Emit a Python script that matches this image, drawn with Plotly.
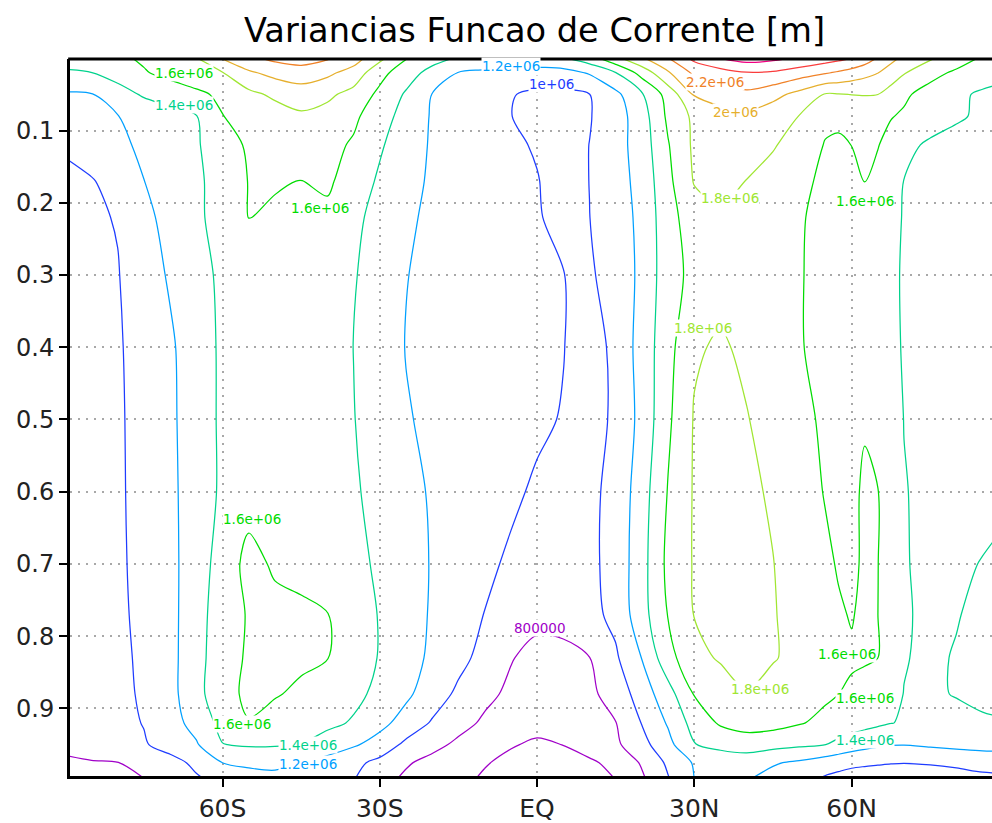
import numpy as np
import plotly.graph_objects as go

# ---------------- data ----------------
latitudes = [-90, -85, -80, -75, -70, -65, -60, -55, -50, -45, -40, -35, -30, -25, -20, -15, -10, -5,
             0, 5, 10, 15, 20, 25, 30, 35, 40, 45, 50,
             55, 57.5, 60, 62.5, 65, 67.5, 70, 75, 80, 85, 90]
sigma_levels = [0.0, 0.02, 0.05, 0.08, 0.12, 0.17, 0.22, 0.3, 0.4, 0.5, 0.6, 0.7,
                0.77, 0.83, 0.88, 0.92, 0.95, 0.975, 1.0]

# streamfunction variance, units of 1e6 m (one row per sigma level)
variance_1e6 = [
    [1.45, 1.506, 1.563, 1.627, 1.708, 1.789, 2.014, 2.155, 2.246, 2.287, 2.22, 2.094, 1.848, 1.609, 1.474, 1.377, 1.323, 1.27,
     1.324, 1.377, 1.514, 1.747, 1.974, 2.191, 2.451, 2.605, 2.684, 2.645, 2.573,
     2.492, 2.452, 2.411, 2.31, 2.184, 2.053, 1.959, 1.824, 1.691, 1.576, 1.5],
    [1.385, 1.397, 1.485, 1.584, 1.657, 1.725, 1.793, 1.970, 2.061, 2.107, 2.043, 1.92, 1.663, 1.49, 1.333, 1.194, 1.167, 1.13,
     1.12, 1.13, 1.218, 1.396, 1.674, 1.975, 2.242, 2.316, 2.39, 2.374, 2.297,
     2.22, 2.173, 2.117, 2.061, 2.004, 1.912, 1.815, 1.658, 1.569, 1.518, 1.47],
    [1.18, 1.19, 1.311, 1.425, 1.491, 1.558, 1.64, 1.751, 1.836, 1.9, 1.839, 1.735, 1.554, 1.377, 1.195, 1.133, 1.072, 1.01,
     0.965, 0.96, 0.997, 1.151, 1.38, 1.677, 2.016, 2.083, 2.15, 2.065, 1.938,
     1.785, 1.79, 1.803, 1.81, 1.801, 1.718, 1.629, 1.53, 1.447, 1.363, 1.3],
    [1.11, 1.153, 1.196, 1.26, 1.327, 1.393, 1.596, 1.655, 1.711, 1.768, 1.732, 1.637, 1.492, 1.322, 1.183, 1.123, 1.063, 1.002,
     0.963, 0.954, 0.989, 1.109, 1.311, 1.639, 1.843, 1.929, 1.95, 1.874, 1.797,
     1.64, 1.635, 1.63, 1.63, 1.63, 1.609, 1.578, 1.504, 1.43, 1.362, 1.3],
    [1.02, 1.091, 1.162, 1.233, 1.306, 1.378, 1.519, 1.625, 1.672, 1.72, 1.655, 1.578, 1.425, 1.285, 1.181, 1.132, 1.083, 1.034,
     0.982, 0.92, 1.002, 1.121, 1.294, 1.588, 1.837, 1.892, 1.882, 1.819, 1.707,
     1.59, 1.575, 1.601, 1.617, 1.607, 1.545, 1.455, 1.367, 1.32, 1.30, 1.28],
    [0.965, 0.988, 1.065, 1.198, 1.282, 1.364, 1.481, 1.606, 1.612, 1.597, 1.63, 1.514, 1.37, 1.253, 1.177, 1.135, 1.093, 1.051,
     1.009, 0.92, 1.002, 1.116, 1.268, 1.552, 1.814, 1.88, 1.795, 1.715, 1.634,
     1.572, 1.555, 1.578, 1.602, 1.556, 1.471, 1.397, 1.353, 1.31, 1.29, 1.27],
    [0.95, 0.976, 1.009, 1.151, 1.263, 1.358, 1.487, 1.603, 1.58, 1.573, 1.558, 1.45, 1.328, 1.225, 1.171, 1.133, 1.094, 1.056,
     1.018, 0.935, 0.998, 1.109, 1.247, 1.531, 1.703, 1.761, 1.712, 1.663, 1.613,
     1.562, 1.536, 1.528, 1.521, 1.49, 1.431, 1.393, 1.351, 1.31, 1.29, 1.27],
    [0.93, 0.961, 0.992, 1.097, 1.224, 1.343, 1.431, 1.49, 1.55, 1.535, 1.52, 1.415, 1.309, 1.204, 1.168, 1.134, 1.101, 1.067,
     1.034, 1.003, 0.971, 1.095, 1.239, 1.524, 1.653, 1.726, 1.703, 1.657, 1.61,
     1.556, 1.528, 1.5, 1.472, 1.444, 1.416, 1.392, 1.349, 1.31, 1.29, 1.27],
    [0.91, 0.947, 0.984, 1.06, 1.168, 1.319, 1.427, 1.478, 1.529, 1.515, 1.457, 1.398, 1.29, 1.195, 1.163, 1.132, 1.1, 1.069,
     1.037, 1.006, 0.9, 1.054, 1.276, 1.535, 1.777, 1.825, 1.761, 1.686, 1.611,
     1.554, 1.527, 1.5, 1.473, 1.446, 1.418, 1.394, 1.352, 1.31, 1.29, 1.27],
    [0.9, 0.94, 0.98, 1.053, 1.16, 1.313, 1.428, 1.483, 1.538, 1.524, 1.465, 1.406, 1.311, 1.212, 1.17, 1.135, 1.1, 1.066,
     1.032, 0.989, 0.905, 1.042, 1.26, 1.566, 1.814, 1.88, 1.809, 1.726, 1.642,
     1.575, 1.55, 1.57, 1.59, 1.57, 1.481, 1.397, 1.353, 1.31, 1.29, 1.27],
    [0.89, 0.934, 0.978, 1.051, 1.153, 1.306, 1.428, 1.52, 1.55, 1.528, 1.485, 1.421, 1.346, 1.256, 1.181, 1.131, 1.082, 1.032,
     0.974, 0.9, 0.957, 1.057, 1.31, 1.611, 1.818, 1.88, 1.835, 1.779, 1.684,
     1.59, 1.556, 1.575, 1.617, 1.603, 1.506, 1.408, 1.36, 1.34, 1.36, 1.38],
    [0.88, 0.927, 0.974, 1.047, 1.149, 1.302, 1.483, 1.66, 1.575, 1.56, 1.502, 1.443, 1.375, 1.28, 1.188, 1.112, 1.036, 0.973,
     0.921, 0.893, 0.956, 1.068, 1.327, 1.648, 1.816, 1.861, 1.841, 1.804, 1.721,
     1.631, 1.587, 1.567, 1.625, 1.603, 1.515, 1.41, 1.365, 1.379, 1.405, 1.43],
    [0.87, 0.92, 0.969, 1.04, 1.147, 1.311, 1.52, 1.613, 1.65, 1.625, 1.605, 1.495, 1.389, 1.284, 1.181, 1.088, 0.996, 0.922,
     0.85, 0.865, 0.941, 1.052, 1.323, 1.609, 1.806, 1.846, 1.841, 1.81, 1.745,
     1.663, 1.618, 1.59, 1.635, 1.601, 1.509, 1.415, 1.37, 1.391, 1.44, 1.46],
    [0.86, 0.911, 0.962, 1.03, 1.147, 1.317, 1.54, 1.618, 1.66, 1.629, 1.605, 1.491, 1.389, 1.276, 1.165, 1.057, 0.938, 0.81,
     0.744, 0.75, 0.797, 0.972, 1.205, 1.53, 1.747, 1.819, 1.835, 1.811, 1.758,
     1.682, 1.643, 1.62, 1.615, 1.601, 1.508, 1.408, 1.372, 1.411, 1.452, 1.46],
    [0.85, 0.903, 0.957, 1.022, 1.144, 1.323, 1.56, 1.623, 1.612, 1.571, 1.507, 1.442, 1.359, 1.237, 1.099, 0.962, 0.843, 0.766,
     0.712, 0.704, 0.762, 0.877, 1.095, 1.323, 1.611, 1.703, 1.795, 1.74, 1.684,
     1.629, 1.601, 1.575, 1.55, 1.491, 1.441, 1.397, 1.373, 1.41, 1.45, 1.46],
    [0.84, 0.894, 0.949, 1.007, 1.119, 1.272, 1.46, 1.595, 1.54, 1.487, 1.44, 1.383, 1.257, 1.122, 0.981, 0.862, 0.772, 0.714,
     0.655, 0.65, 0.724, 0.795, 1.008, 1.221, 1.476, 1.626, 1.679, 1.668, 1.614,
     1.555, 1.525, 1.495, 1.465, 1.435, 1.405, 1.385, 1.351, 1.34, 1.37, 1.39],
    [0.83, 0.881, 0.932, 0.983, 1.073, 1.18, 1.395, 1.421, 1.418, 1.397, 1.322, 1.224, 1.121, 0.957, 0.854, 0.764, 0.709, 0.612,
     0.576, 0.603, 0.684, 0.765, 0.933, 1.141, 1.394, 1.449, 1.5, 1.468, 1.435,
     1.403, 1.35, 1.3, 1.26, 1.23, 1.21, 1.205, 1.23, 1.25, 1.26, 1.26],
    [0.78, 0.788, 0.797, 0.853, 0.937, 1.039, 1.201, 1.243, 1.236, 1.194, 1.12, 1.046, 0.951, 0.821, 0.744, 0.677, 0.611, 0.563,
     0.518, 0.526, 0.57, 0.652, 0.821, 1.036, 1.22, 1.293, 1.282, 1.218, 1.17,
     1.1, 1.07, 1.045, 1.03, 1.02, 1.01, 1.005, 1.02, 1.05, 1.09, 1.1],
    [0.72, 0.744, 0.768, 0.792, 0.87, 0.973, 1.041, 1.095, 1.15, 1.101, 1.052, 1.004, 0.86, 0.762, 0.699, 0.635, 0.577, 0.524,
     0.471, 0.484, 0.54, 0.597, 0.765, 0.982, 1.196, 1.26, 1.204, 1.131, 1.057,
     0.96, 0.93, 0.9, 0.89, 0.88, 0.87, 0.86, 0.86, 0.88, 0.92, 0.93],
]

contour_levels = [600000, 800000, 1000000, 1200000, 1400000, 1600000,
                  1800000, 2000000, 2200000, 2400000, 2600000]
level_colors = ["#a000c8", "#a000c8", "#1e3cff", "#00a0ff", "#00d28c", "#00dc00",
                "#a0e632", "#e6af2d", "#f08228", "#fa3c3c", "#f00082"]

x_tick_values = [-60, -30, 0, 30, 60]
x_tick_labels = ["60S", "30S", "EQ", "30N", "60N"]
y_tick_values = [0.1, 0.2, 0.3, 0.4, 0.5, 0.6, 0.7, 0.8, 0.9]
y_tick_labels = ["0.1", "0.2", "0.3", "0.4", "0.5", "0.6", "0.7", "0.8", "0.9"]

# contour labels as drawn by the original plot
label_texts = ["1.6e+06", "1.4e+06", "1.6e+06", "1.2e+06", "1e+06", "2.2e+06", "2e+06",
               "1.8e+06", "1.6e+06", "1.8e+06", "1.6e+06", "800000", "1.6e+06", "1.8e+06",
               "1.6e+06", "1.6e+06", "1.4e+06", "1.4e+06", "1.2e+06"]
label_levels = [1600000, 1400000, 1600000, 1200000, 1000000, 2200000, 2000000,
                1800000, 1600000, 1800000, 1600000, 800000, 1600000, 1800000,
                1600000, 1600000, 1400000, 1400000, 1200000]
label_lats = [-67.3, -67.3, -41.4, -5.0, 2.7, 34.0, 37.8, 36.8, 62.6, 31.7, -54.4, 0.6,
              59.1, 42.5, 62.6, -56.3, -43.7, 62.6, -43.7]
label_sigmas = [0.020, 0.064, 0.207, 0.011, 0.035, 0.033, 0.074, 0.194, 0.198, 0.374, 0.638,
                0.789, 0.824, 0.873, 0.886, 0.922, 0.950, 0.943, 0.977]

title_text = "Variancias Funcao de Corrente [m]"

# ---------------- figure ----------------
FONT = "DejaVu Sans"
z = np.array(variance_1e6) * 1e6
n = len(contour_levels)
colorscale = [[i / (n - 1), c] for i, c in enumerate(level_colors)]

fig = go.Figure()
fig.add_trace(go.Contour(
    x=latitudes, y=sigma_levels, z=z,
    contours=dict(start=contour_levels[0], end=contour_levels[-1],
                  size=contour_levels[1] - contour_levels[0],
                  coloring="lines", showlabels=False),
    colorscale=colorscale, showscale=False,
    line=dict(width=1.25, smoothing=0.9),
    hoverinfo="skip",
))

color_of = dict(zip(contour_levels, level_colors))
for t, lv, la, sg in zip(label_texts, label_levels, label_lats, label_sigmas):
    fig.add_annotation(x=la, y=sg, xref="x", yref="y", text=t, showarrow=False,
                       font=dict(family=FONT, size=13.5, color=color_of[lv]),
                       bgcolor="white", borderpad=0, xanchor="center", yanchor="middle")

fig.add_annotation(x=(534 - 70) / 922, y=1.0402, xref="paper", yref="paper",
                   text=title_text, showarrow=False, xanchor="center", yanchor="middle",
                   font=dict(family=FONT, size=33.6, color="black"))

fig.add_shape(type="line", xref="paper", yref="paper", x0=-0.002, x1=1, y0=1, y1=1,
              line=dict(color="black", width=3))

grid = dict(showgrid=True, gridcolor="#a8a8a8", gridwidth=1.5, griddash="2px,6px",
            zeroline=False, showline=True, linecolor="black", linewidth=3, mirror=False,
            ticks="outside", ticklen=8, tickwidth=2, tickcolor="black")

fig.update_xaxes(range=[-89.1, 86.79], tickmode="array", tickvals=x_tick_values,
                 ticktext=x_tick_labels, tickfont=dict(family=FONT, size=25, color="#222"), **grid)
fig.update_yaxes(range=[0.9935, 0.001], tickmode="array", tickvals=y_tick_values,
                 ticktext=y_tick_labels, tickfont=dict(family=FONT, size=24, color="#222"), **grid)

fig.update_layout(width=992, height=823, margin=dict(l=70, r=0, t=59, b=42),
                  plot_bgcolor="white", paper_bgcolor="white", showlegend=False)

fig.write_html("out.html")
